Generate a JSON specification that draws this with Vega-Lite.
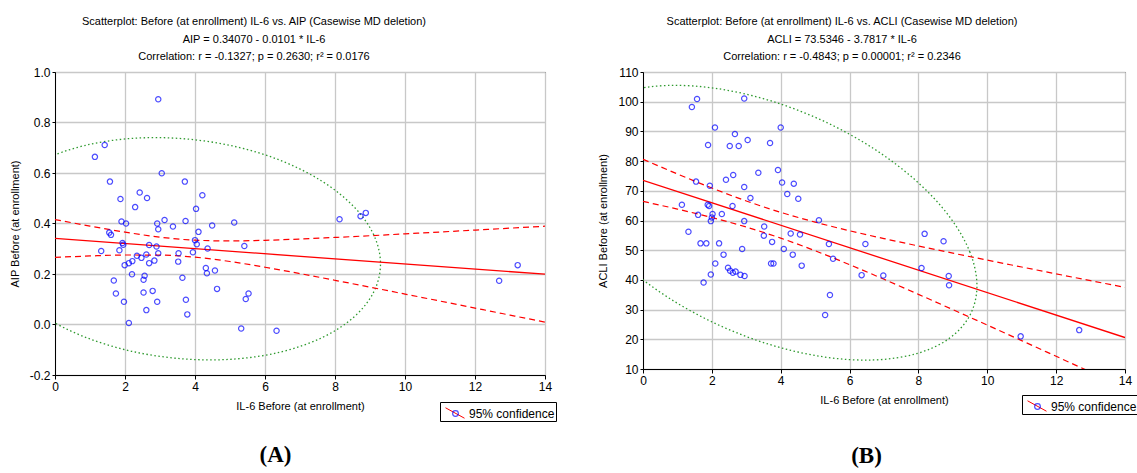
{
"$schema":"https://vega.github.io/schema/vega-lite/v6.json",
"background":"white",
"padding":{"left":8,"top":15,"right":0,"bottom":0},
"spacing":40,
"align":"none",
"config":{"font":"Liberation Sans","view":{"stroke":"black","strokeWidth":1}},
"datasets":{
"ptsA":[{"x":1.14,"y":0.664},{"x":3.05,"y":0.599},{"x":1.57,"y":0.566},{"x":3.71,"y":0.566},{"x":2.42,"y":0.523},{"x":4.21,"y":0.512},{"x":1.87,"y":0.497},{"x":2.63,"y":0.501},{"x":2.29,"y":0.465},{"x":4.03,"y":0.458},{"x":1.9,"y":0.408},{"x":2.03,"y":0.4},{"x":2.92,"y":0.4},{"x":3.13,"y":0.414},{"x":3.73,"y":0.41},{"x":3.37,"y":0.388},{"x":2.95,"y":0.377},{"x":4.49,"y":0.392},{"x":5.12,"y":0.404},{"x":1.55,"y":0.364},{"x":1.6,"y":0.355},{"x":4.1,"y":0.367},{"x":4.0,"y":0.334},{"x":4.05,"y":0.318},{"x":1.93,"y":0.323},{"x":1.95,"y":0.316},{"x":2.69,"y":0.315},{"x":2.9,"y":0.309},{"x":1.32,"y":0.291},{"x":1.84,"y":0.294},{"x":2.34,"y":0.272},{"x":2.47,"y":0.264},{"x":2.61,"y":0.277},{"x":2.95,"y":0.282},{"x":2.84,"y":0.253},{"x":2.69,"y":0.243},{"x":2.21,"y":0.251},{"x":2.11,"y":0.243},{"x":1.99,"y":0.235},{"x":3.53,"y":0.282},{"x":3.52,"y":0.249},{"x":3.94,"y":0.286},{"x":4.36,"y":0.301},{"x":5.41,"y":0.311},{"x":2.2,"y":0.199},{"x":2.56,"y":0.193},{"x":2.53,"y":0.177},{"x":1.68,"y":0.174},{"x":3.64,"y":0.185},{"x":4.31,"y":0.224},{"x":4.34,"y":0.203},{"x":4.57,"y":0.214},{"x":4.63,"y":0.141},{"x":1.74,"y":0.123},{"x":2.53,"y":0.127},{"x":2.79,"y":0.133},{"x":1.97,"y":0.09},{"x":2.92,"y":0.09},{"x":3.74,"y":0.098},{"x":2.61,"y":0.057},{"x":3.78,"y":0.04},{"x":2.11,"y":0.006},{"x":5.45,"y":0.101},{"x":5.53,"y":0.123},{"x":5.32,"y":-0.016},{"x":2.95,"y":0.892},{"x":1.42,"y":0.711},{"x":6.33,"y":-0.025},{"x":8.13,"y":0.417},{"x":8.73,"y":0.429},{"x":8.88,"y":0.442},{"x":12.69,"y":0.173},{"x":13.22,"y":0.235}],
"regA":[{"x":0,"y":0.3407},{"x":14,"y":0.1993}],
"bandA":[{"x":0,"y":0.4157,"side":"u"},{"x":1,"y":0.3898,"side":"u"},{"x":2,"y":0.3658,"side":"u"},{"x":3,"y":0.3459,"side":"u"},{"x":4,"y":0.3339,"side":"u"},{"x":5,"y":0.3309,"side":"u"},{"x":6,"y":0.3334,"side":"u"},{"x":7,"y":0.3385,"side":"u"},{"x":8,"y":0.3448,"side":"u"},{"x":9,"y":0.3516,"side":"u"},{"x":10,"y":0.3589,"side":"u"},{"x":11,"y":0.3663,"side":"u"},{"x":12,"y":0.3739,"side":"u"},{"x":13,"y":0.3816,"side":"u"},{"x":14,"y":0.3893,"side":"u"},
{"x":0,"y":0.2657,"side":"l"},{"x":1,"y":0.2714,"side":"l"},{"x":2,"y":0.2752,"side":"l"},{"x":3,"y":0.2749,"side":"l"},{"x":4,"y":0.2667,"side":"l"},{"x":5,"y":0.2495,"side":"l"},{"x":6,"y":0.2268,"side":"l"},{"x":7,"y":0.2015,"side":"l"},{"x":8,"y":0.175,"side":"l"},{"x":9,"y":0.148,"side":"l"},{"x":10,"y":0.1205,"side":"l"},{"x":11,"y":0.0929,"side":"l"},{"x":12,"y":0.0651,"side":"l"},{"x":13,"y":0.0372,"side":"l"},{"x":14,"y":0.0093,"side":"l"}],
"ellA":[{"t":0,"x":9.3,"y":0.24},{"t":15,"x":9.107,"y":0.355},{"t":30,"x":8.543,"y":0.466},{"t":45,"x":7.645,"y":0.566},{"t":60,"x":6.475,"y":0.648},{"t":75,"x":5.112,"y":0.706},{"t":90,"x":3.65,"y":0.736},{"t":105,"x":2.188,"y":0.737},{"t":120,"x":0.825,"y":0.708},{"t":135,"x":-0.345,"y":0.651},{"t":150,"x":-1.243,"y":0.57},{"t":165,"x":-1.807,"y":0.471},{"t":180,"x":-2.0,"y":0.36},{"t":195,"x":-1.807,"y":0.245},{"t":210,"x":-1.243,"y":0.134},{"t":225,"x":-0.345,"y":0.034},{"t":240,"x":0.825,"y":-0.048},{"t":255,"x":2.188,"y":-0.106},{"t":270,"x":3.65,"y":-0.136},{"t":285,"x":5.112,"y":-0.137},{"t":300,"x":6.475,"y":-0.108},{"t":315,"x":7.645,"y":-0.051},{"t":330,"x":8.543,"y":0.03},{"t":345,"x":9.107,"y":0.129}],
"ptsB":[{"x":1.57,"y":100.9},{"x":1.42,"y":98.2},{"x":2.94,"y":101.1},{"x":2.09,"y":91.3},{"x":4.0,"y":91.3},{"x":2.67,"y":89.1},{"x":1.89,"y":85.4},{"x":2.52,"y":85.1},{"x":2.78,"y":85.1},{"x":3.04,"y":87.1},{"x":3.69,"y":86.1},{"x":3.35,"y":76.1},{"x":3.92,"y":77.0},{"x":2.62,"y":75.3},{"x":2.41,"y":73.7},{"x":1.54,"y":73.1},{"x":1.94,"y":71.7},{"x":2.94,"y":71.3},{"x":4.04,"y":72.8},{"x":4.38,"y":72.4},{"x":4.19,"y":68.9},{"x":4.51,"y":67.3},{"x":3.12,"y":67.6},{"x":1.13,"y":65.3},{"x":1.88,"y":65.3},{"x":1.92,"y":64.9},{"x":2.6,"y":64.9},{"x":1.6,"y":61.9},{"x":2.02,"y":62.2},{"x":2.29,"y":62.2},{"x":2.0,"y":61.0},{"x":1.97,"y":59.8},{"x":2.94,"y":59.8},{"x":5.11,"y":60.1},{"x":3.52,"y":58.0},{"x":3.51,"y":54.9},{"x":4.29,"y":55.6},{"x":4.56,"y":55.3},{"x":3.75,"y":52.8},{"x":1.32,"y":56.2},{"x":1.67,"y":52.3},{"x":1.84,"y":52.3},{"x":2.21,"y":52.3},{"x":2.88,"y":50.4},{"x":4.09,"y":50.4},{"x":5.4,"y":52.1},{"x":5.52,"y":47.1},{"x":4.35,"y":48.5},{"x":4.61,"y":44.8},{"x":2.34,"y":48.5},{"x":2.1,"y":45.5},{"x":3.72,"y":45.5},{"x":3.79,"y":45.5},{"x":2.47,"y":44.1},{"x":2.53,"y":43.1},{"x":2.61,"y":42.4},{"x":2.69,"y":42.8},{"x":2.83,"y":41.7},{"x":2.95,"y":41.3},{"x":1.97,"y":41.8},{"x":1.76,"y":39.1},{"x":5.43,"y":34.9},{"x":5.29,"y":28.2},{"x":6.35,"y":41.6},{"x":6.98,"y":41.5},{"x":6.46,"y":52.1},{"x":8.18,"y":55.5},{"x":8.73,"y":53.0},{"x":8.09,"y":44.0},{"x":8.88,"y":41.3},{"x":8.89,"y":38.2},{"x":10.97,"y":21.0},{"x":12.67,"y":23.1}],
"regB":[{"x":0,"y":73.5346},{"x":14,"y":20.59}],
"bandB":[{"x":0,"y":80.63,"side":"u"},{"x":1,"y":75.67,"side":"u"},{"x":2,"y":70.94,"side":"u"},{"x":3,"y":66.58,"side":"u"},{"x":4,"y":62.75,"side":"u"},{"x":5,"y":59.45,"side":"u"},{"x":6,"y":56.55,"side":"u"},{"x":7,"y":53.91,"side":"u"},{"x":8,"y":51.42,"side":"u"},{"x":9,"y":49.01,"side":"u"},{"x":10,"y":46.65,"side":"u"},{"x":11,"y":44.34,"side":"u"},{"x":12,"y":42.03,"side":"u"},{"x":13,"y":39.75,"side":"u"},{"x":14,"y":37.49,"side":"u"},
{"x":0,"y":66.43,"side":"l"},{"x":1,"y":63.83,"side":"l"},{"x":2,"y":61.0,"side":"l"},{"x":3,"y":57.8,"side":"l"},{"x":4,"y":54.07,"side":"l"},{"x":5,"y":49.81,"side":"l"},{"x":6,"y":45.13,"side":"l"},{"x":7,"y":40.21,"side":"l"},{"x":8,"y":35.14,"side":"l"},{"x":9,"y":29.99,"side":"l"},{"x":10,"y":24.79,"side":"l"},{"x":11,"y":19.54,"side":"l"},{"x":12,"y":14.27,"side":"l"},{"x":13,"y":8.99,"side":"l"},{"x":14,"y":3.69,"side":"l"}],
"ellB":[{"t":0,"x":9.7,"y":38.0},{"t":15,"x":9.495,"y":49.35},{"t":30,"x":8.896,"y":61.39},{"t":45,"x":7.943,"y":73.27},{"t":60,"x":6.7,"y":84.2},{"t":75,"x":5.253,"y":93.43},{"t":90,"x":3.7,"y":100.33},{"t":105,"x":2.147,"y":104.43},{"t":120,"x":0.7,"y":105.46},{"t":135,"x":-0.543,"y":103.33},{"t":150,"x":-1.496,"y":98.19},{"t":165,"x":-2.095,"y":90.41},{"t":180,"x":-2.3,"y":80.5},{"t":195,"x":-2.095,"y":69.15},{"t":210,"x":-1.496,"y":57.11},{"t":225,"x":-0.543,"y":45.23},{"t":240,"x":0.7,"y":34.3},{"t":255,"x":2.147,"y":25.07},{"t":270,"x":3.7,"y":18.17},{"t":285,"x":5.253,"y":14.07},{"t":300,"x":6.7,"y":13.04},{"t":315,"x":7.943,"y":15.17},{"t":330,"x":8.896,"y":20.31},{"t":345,"x":9.495,"y":28.09}]
},
"hconcat":[
{
"width":490,"height":303,
"title":{"text":["Scatterplot: Before (at enrollment) IL-6 vs. AIP (Casewise MD deletion)","AIP = 0.34070 - 0.0101  * IL-6","Correlation: r  = -0.1327; p = 0.2630; r² = 0.0176"],"fontSize":11,"fontWeight":"normal","lineHeight":17.5,"dx":-46,"offset":4,"anchor":"middle","color":"black"},
"resolve":{"axis":{"x":"independent","y":"independent"}},
"layer":[
{"data":{"name":"ellA"},"mark":{"type":"line","color":"#2f9a2f","strokeWidth":1.3,"strokeDash":[1.5,2.5],"interpolate":"cardinal-closed","clip":true},
"encoding":{"x":{"field":"x","type":"quantitative","scale":{"domain":[0,14],"nice":false,"zero":false},"axis":{"orient":"bottom","values":[0,2,4,6,8,10,12,14],"grid":true,"gridColor":"#c8c8c8","gridWidth":1.3,"domainColor":"black","tickColor":"black","tickSize":4,"labelPadding":2,"labelFlush":false,"labelFontSize":12,"labelColor":"black","title":"IL-6 Before (at enrollment)","titleFontSize":11,"titleFontWeight":"normal","titleColor":"black","titlePadding":8}},
"y":{"field":"y","type":"quantitative","scale":{"domain":[-0.2,1.0],"nice":false,"zero":false},"axis":{"orient":"left","values":[-0.2,0,0.2,0.4,0.6,0.8,1.0],"format":".1f","labelExpr":"replace(datum.label, '−', '-')","grid":true,"gridColor":"#c8c8c8","gridWidth":1.3,"domainColor":"black","tickColor":"black","tickSize":3,"labelPadding":2,"labelFlush":false,"labelFontSize":12,"labelColor":"black","title":"AIP Before (at enrollment)","titleFontSize":11,"titleFontWeight":"normal","titleColor":"black","titlePadding":9}},
"order":{"field":"t","type":"quantitative"}}},
{"data":{"name":"bandA"},"mark":{"type":"line","color":"#ff0000","strokeWidth":1.2,"strokeDash":[6,4],"interpolate":"monotone","clip":true},
"encoding":{"x":{"field":"x","type":"quantitative","scale":{"domain":[0,14],"nice":false,"zero":false},"axis":{"orient":"bottom","title":"(A)","labels":false,"ticks":false,"domain":false,"grid":false,"titleFont":"Liberation Serif","titleFontSize":23,"titleFontWeight":"bold","titleColor":"black","titlePadding":68,"titleX":220}},
"y":{"field":"y","type":"quantitative","scale":{"domain":[-0.2,1.0],"nice":false,"zero":false},"axis":null},
"detail":{"field":"side","type":"nominal"}}},
{"data":{"name":"regA"},"mark":{"type":"line","strokeWidth":1.3,"clip":true},
"encoding":{"x":{"field":"x","type":"quantitative","scale":{"domain":[0,14],"nice":false,"zero":false},"axis":null},
"y":{"field":"y","type":"quantitative","scale":{"domain":[-0.2,1.0],"nice":false,"zero":false},"axis":null},
"color":{"datum":"95% confidence ","type":"nominal","scale":{"range":["#ff0000"]},"legend":{"orient":"none","legendX":385,"legendY":330,"title":null,"symbolType":"M-1,-0.55L1,0.55","symbolSize":361,"symbolStrokeWidth":1,"symbolOffset":4,"labelFontSize":12,"labelOpacity":0,"labelOffset":3,"padding":1}}}},
{"data":{"name":"ptsA"},"mark":{"type":"point","filled":false,"size":28,"strokeWidth":1.2,"clip":true},
"encoding":{"x":{"field":"x","type":"quantitative","scale":{"domain":[0,14],"nice":false,"zero":false},"axis":null},
"y":{"field":"y","type":"quantitative","scale":{"domain":[-0.2,1.0],"nice":false,"zero":false},"axis":null},
"stroke":{"datum":"95% confidence","type":"nominal","scale":{"range":["#0000ff"]},"legend":{"orient":"none","legendX":385,"legendY":330,"title":null,"symbolType":"M0.3,0A0.3,0.3,0,1,1,-0.3,0A0.3,0.3,0,1,1,0.3,0Z","symbolSize":361,"symbolStrokeWidth":1.2,"symbolFillColor":"transparent","symbolOffset":4,"labelFontSize":12,"labelColor":"black","labelOffset":3,"strokeColor":"black","padding":1}}}}
]
},
{
"width":482,"height":297,
"title":{"text":["Scatterplot: Before (at enrollment) IL-6 vs. ACLI (Casewise MD deletion)","ACLI = 73.5346 - 3.7817 * IL-6","Correlation: r = -0.4843; p = 0.00001; r² = 0.2346"],"fontSize":11,"fontWeight":"normal","lineHeight":17.5,"dx":-42,"offset":4,"anchor":"middle","color":"black"},
"resolve":{"axis":{"x":"independent","y":"independent"}},
"layer":[
{"data":{"name":"ellB"},"mark":{"type":"line","color":"#2f9a2f","strokeWidth":1.3,"strokeDash":[1.5,2.5],"interpolate":"cardinal-closed","clip":true},
"encoding":{"x":{"field":"x","type":"quantitative","scale":{"domain":[0,14],"nice":false,"zero":false},"axis":{"orient":"bottom","values":[0,2,4,6,8,10,12,14],"grid":true,"gridColor":"#c8c8c8","gridWidth":1.3,"domainColor":"black","tickColor":"black","tickSize":4,"labelPadding":2,"labelFlush":false,"labelFontSize":12,"labelColor":"black","title":"IL-6 Before (at enrollment)","titleFontSize":11,"titleFontWeight":"normal","titleColor":"black","titlePadding":8}},
"y":{"field":"y","type":"quantitative","scale":{"domain":[10,110],"nice":false,"zero":false},"axis":{"orient":"left","values":[10,20,30,40,50,60,70,80,90,100,110],"grid":true,"gridColor":"#c8c8c8","gridWidth":1.3,"domainColor":"black","tickColor":"black","tickSize":3,"labelPadding":2,"labelFlush":false,"labelFontSize":12,"labelColor":"black","title":"ACLI Before (at enrollment)","titleFontSize":11,"titleFontWeight":"normal","titleColor":"black","titlePadding":9}},
"order":{"field":"t","type":"quantitative"}}},
{"data":{"name":"bandB"},"mark":{"type":"line","color":"#ff0000","strokeWidth":1.2,"strokeDash":[6,4],"interpolate":"monotone","clip":true},
"encoding":{"x":{"field":"x","type":"quantitative","scale":{"domain":[0,14],"nice":false,"zero":false},"axis":{"orient":"bottom","title":"(B)","labels":false,"ticks":false,"domain":false,"grid":false,"titleFont":"Liberation Serif","titleFontSize":23,"titleFontWeight":"bold","titleColor":"black","titlePadding":75,"titleX":223}},
"y":{"field":"y","type":"quantitative","scale":{"domain":[10,110],"nice":false,"zero":false},"axis":null},
"detail":{"field":"side","type":"nominal"}}},
{"data":{"name":"regB"},"mark":{"type":"line","strokeWidth":1.3,"clip":true},
"encoding":{"x":{"field":"x","type":"quantitative","scale":{"domain":[0,14],"nice":false,"zero":false},"axis":null},
"y":{"field":"y","type":"quantitative","scale":{"domain":[10,110],"nice":false,"zero":false},"axis":null},
"color":{"datum":"95% confidence ","type":"nominal","scale":{"range":["#ff0000"]},"legend":{"orient":"none","legendX":379,"legendY":323,"title":null,"symbolType":"M-1,-0.55L1,0.55","symbolSize":361,"symbolStrokeWidth":1,"symbolOffset":4,"labelFontSize":12,"labelOpacity":0,"labelOffset":3,"padding":1}}}},
{"data":{"name":"ptsB"},"mark":{"type":"point","filled":false,"size":28,"strokeWidth":1.2,"clip":true},
"encoding":{"x":{"field":"x","type":"quantitative","scale":{"domain":[0,14],"nice":false,"zero":false},"axis":null},
"y":{"field":"y","type":"quantitative","scale":{"domain":[10,110],"nice":false,"zero":false},"axis":null},
"stroke":{"datum":"95% confidence","type":"nominal","scale":{"range":["#0000ff"]},"legend":{"orient":"none","legendX":379,"legendY":323,"title":null,"symbolType":"M0.3,0A0.3,0.3,0,1,1,-0.3,0A0.3,0.3,0,1,1,0.3,0Z","symbolSize":361,"symbolStrokeWidth":1.2,"symbolFillColor":"transparent","symbolOffset":4,"labelFontSize":12,"labelColor":"black","labelOffset":3,"strokeColor":"black","padding":1}}}}
]
}
],
"resolve":{"scale":{"color":"independent","stroke":"independent"},"legend":{"color":"independent","stroke":"independent"}}
}
